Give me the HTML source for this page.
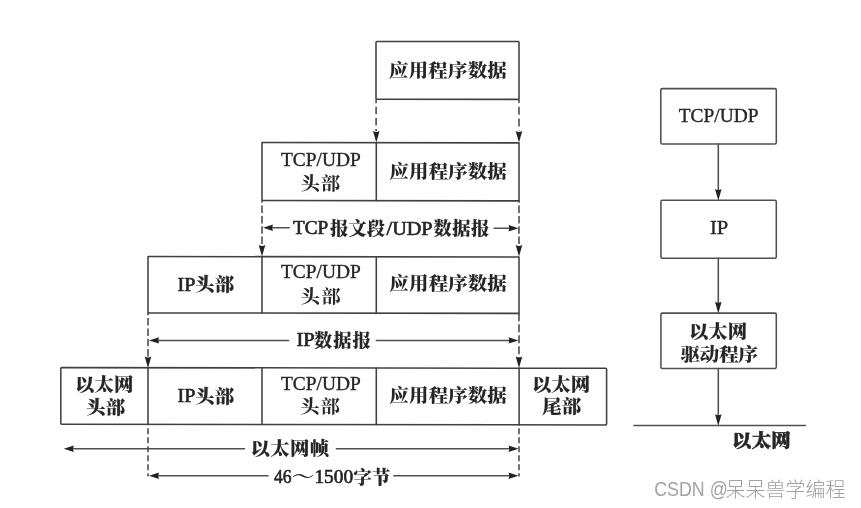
<!DOCTYPE html>
<html lang="zh-CN">
<head>
<meta charset="utf-8">
<title>以太网帧封装</title>
<style>
html,body{margin:0;padding:0;background:#fff;}
body{width:861px;height:508px;overflow:hidden;position:relative;}
svg{position:absolute;left:0;top:0;display:block;}
.ln{stroke:#404040;stroke-width:1.55;fill:none;stroke-linejoin:round;stroke-linecap:round;}
.ln.r{stroke:#505050;stroke-width:1.55;}
.ds{stroke:#444;stroke-width:1.5;fill:none;}
.ah{fill:#222;stroke:none;}
.ln.d{stroke:#505050;stroke-width:1.5;}
.tx text{font-family:"Liberation Serif","Noto Serif CJK SC",serif;fill:#282828;text-anchor:start;font-weight:900;}
.tx text.w{font-weight:500;}
.tx text.n{font-weight:700;}
.tx text.h{font-weight:900;}
.tx text.h .c{stroke:#1c1c1c;stroke-width:0.1;}
.tx text.h .l{font-weight:400;stroke-width:0.6;font-size:18.9px;}
.tx text.hh{font-weight:900;}
.tx text.hh .c{stroke-width:0.45;}
.c{font-size:18.2px;stroke:#1c1c1c;stroke-width:0;}
.l{font-size:19.4px;font-weight:400;stroke:#1c1c1c;stroke-width:0.35;}
.wm{font-family:"Liberation Sans","Noto Sans CJK SC",sans-serif;fill:#a2a2a2;text-anchor:start;font-weight:300;}

</style>
</head>
<body>
<svg width="861" height="508" viewBox="0 0 861 508">
<defs>
<filter id="b" x="-5%" y="-5%" width="110%" height="110%"><feGaussianBlur stdDeviation="0.68"/></filter>
<filter id="bl" x="-5%" y="-5%" width="110%" height="110%"><feGaussianBlur stdDeviation="0.7"/></filter>
<filter id="w" x="-5%" y="-5%" width="110%" height="110%"><feGaussianBlur stdDeviation="0.4"/></filter>
</defs>
<rect x="0" y="0" width="861" height="508" fill="#fff"/>
<g filter="url(#bl)">
<g class="ln" transform="matrix(1 0.0013 0 1 0 -0.08)">
<rect x="376.0" y="41.0" width="143.0" height="57.8" rx="0.8"/>
<rect x="262.0" y="142.3" width="257.0" height="58.0"/>
<line x1="376.3" y1="142.3" x2="376.3" y2="200.3"/>
<rect x="148.0" y="256.4" width="371.0" height="56.4"/>
<line x1="262.0" y1="256.4" x2="262.0" y2="312.8"/>
<line x1="376.3" y1="256.4" x2="376.3" y2="312.8"/>
<rect x="60.8" y="367.6" width="545.8" height="56.6" rx="1.0"/>
<line x1="148.0" y1="367.8" x2="148.0" y2="424.2"/>
<line x1="262.0" y1="367.8" x2="262.0" y2="424.2"/>
<line x1="376.3" y1="367.8" x2="376.3" y2="424.2"/>
<line x1="519.1" y1="367.8" x2="519.1" y2="424.2"/>
</g><g class="ln r">
<rect x="660.8" y="88.6" width="115.5" height="55.4" rx="1.5"/>
<rect x="660.9" y="200.2" width="115.4" height="58.0" rx="1.5"/>
<rect x="660.9" y="313.1" width="115.4" height="55.4" rx="1.5"/>
<line x1="718.3" y1="144.0" x2="718.3" y2="192.0"/>
<line x1="718.3" y1="258.2" x2="718.3" y2="304.0"/>
<line x1="718.3" y1="368.5" x2="718.3" y2="416.0"/>
<line x1="634.0" y1="425.5" x2="805.3" y2="425.5"/>
</g><g class="ln d">
<line x1="270.0" y1="227.8" x2="289.2" y2="227.8"/>
<line x1="494.0" y1="228.2" x2="511.0" y2="228.2"/>
<line x1="156.0" y1="340.4" x2="288.6" y2="340.4"/>
<line x1="376.4" y1="340.4" x2="511.0" y2="340.4"/>
<line x1="72.0" y1="448.8" x2="244.5" y2="448.8"/>
<line x1="336.4" y1="448.8" x2="511.0" y2="448.8"/>
<line x1="156.0" y1="475.8" x2="268.0" y2="475.8"/>
<line x1="393.8" y1="475.8" x2="511.0" y2="475.8"/>
</g>
<g class="ds">
<line x1="376.1" y1="99.2" x2="376.1" y2="131.0" stroke-dasharray="7.5 3.6" stroke-dashoffset="3.5"/>
<line x1="519.0" y1="99.2" x2="519.0" y2="131.0" stroke-dasharray="8 3.8" stroke-dashoffset="4.2"/>
<line x1="262.0" y1="200.3" x2="262.0" y2="247.0" stroke-dasharray="7.5 2.8" stroke-dashoffset="5.0"/>
<line x1="519.0" y1="200.3" x2="519.0" y2="247.0" stroke-dasharray="7.5 2.8" stroke-dashoffset="5.0"/>
<line x1="148.0" y1="312.8" x2="148.0" y2="359.0" stroke-dasharray="7.5 2.8" stroke-dashoffset="5.0"/>
<line x1="519.0" y1="312.8" x2="519.0" y2="359.0" stroke-dasharray="8 3" stroke-dashoffset="-0.5"/>
<line x1="148.0" y1="424.2" x2="148.0" y2="476.5" stroke-dasharray="6 3" stroke-dashoffset="5.0"/>
<line x1="519.0" y1="424.2" x2="519.0" y2="476.5" stroke-dasharray="6 3" stroke-dashoffset="5.0"/>
</g>
</g>
<g filter="url(#b)">
<g class="ah">
<path d="M376.3 142.6 L373.0 131.0 Q376.3 133.0 379.6 131.0 Z"/>
<path d="M519.0 142.6 L515.7 131.0 Q519.0 133.0 522.3 131.0 Z"/>
<path d="M262.0 256.6 L258.7 245.0 Q262.0 247.0 265.3 245.0 Z"/>
<path d="M519.0 256.6 L515.7 245.0 Q519.0 247.0 522.3 245.0 Z"/>
<path d="M148.0 368.0 L144.7 356.4 Q148.0 358.4 151.3 356.4 Z"/>
<path d="M519.0 368.0 L515.7 356.4 Q519.0 358.4 522.3 356.4 Z"/>
<path d="M718.3 200.6 L715.0 189.0 Q718.3 191.0 721.6 189.0 Z"/>
<path d="M718.3 313.4 L715.0 301.8 Q718.3 303.8 721.6 301.8 Z"/>
<path d="M718.3 425.8 L715.0 414.2 Q718.3 416.2 721.6 414.2 Z"/>
<path d="M263.0 227.8 L273.0 224.6 Q271.4 227.8 273.0 231.0 Z"/>
<path d="M518.5 228.2 L508.5 225.0 Q510.1 228.2 508.5 231.4 Z"/>
<path d="M149.0 340.4 L159.0 337.2 Q157.4 340.4 159.0 343.6 Z"/>
<path d="M518.5 340.4 L508.5 337.2 Q510.1 340.4 508.5 343.6 Z"/>
<path d="M63.8 448.8 L73.8 445.6 Q72.2 448.8 73.8 452.0 Z"/>
<path d="M518.5 448.8 L508.5 445.6 Q510.1 448.8 508.5 452.0 Z"/>
<path d="M149.0 475.8 L159.0 472.6 Q157.4 475.8 159.0 479.0 Z"/>
<path d="M518.5 475.8 L508.5 472.6 Q510.1 475.8 508.5 479.0 Z"/>
</g>

</g>
<g filter="url(#b)">
<g class="tx">
<text letter-spacing="0.19" transform="translate(389.00 76.80) scale(1.0700 1)"><tspan class="c">应用程序数据</tspan></text>
<text letter-spacing="0.11" transform="translate(389.50 178.00) scale(1.0700 1)"><tspan class="c">应用程序数据</tspan></text>
<text letter-spacing="0.11" transform="translate(389.50 290.20) scale(1.0700 1)"><tspan class="c">应用程序数据</tspan></text>
<text letter-spacing="0.11" transform="translate(389.50 402.20) scale(1.0700 1)"><tspan class="c">应用程序数据</tspan></text>
<text transform="translate(280.99 165.70) scale(1.0002 1)"><tspan class="l">TCP/UDP</tspan></text>
<text class="n" letter-spacing="0.75" transform="translate(300.50 190.40) scale(1.0700 1)"><tspan class="c">头部</tspan></text>
<text transform="translate(280.99 278.20) scale(1.0002 1)"><tspan class="l">TCP/UDP</tspan></text>
<text class="n" letter-spacing="1.12" transform="translate(300.50 302.70) scale(1.0700 1)"><tspan class="c">头部</tspan></text>
<text transform="translate(280.99 389.70) scale(1.0002 1)"><tspan class="l">TCP/UDP</tspan></text>
<text class="n" letter-spacing="0.93" transform="translate(300.00 413.40) scale(1.0700 1)"><tspan class="c">头部</tspan></text>
<text class="h" transform="translate(177.45 290.90) scale(1.0645 1)"><tspan class="l">IP</tspan></text>
<text class="h" letter-spacing="0.37" transform="translate(195.00 291.00) scale(1.0700 1)"><tspan class="c">头部</tspan></text>
<text class="h" transform="translate(177.45 401.50) scale(1.0645 1)"><tspan class="l">IP</tspan></text>
<text class="h" letter-spacing="0.37" transform="translate(195.00 403.40) scale(1.0700 1)"><tspan class="c">头部</tspan></text>
<text class="h" letter-spacing="0.09" transform="translate(75.00 390.50) scale(1.0700 1)"><tspan class="c">以太网</tspan></text>
<text class="h" letter-spacing="0.19" transform="translate(86.00 413.80) scale(1.0700 1)"><tspan class="c">头部</tspan></text>
<text class="h" letter-spacing="-0.09" transform="translate(532.00 390.70) scale(1.0700 1)"><tspan class="c">以太网</tspan></text>
<text class="h" letter-spacing="0.37" transform="translate(542.00 413.40) scale(1.0700 1)"><tspan class="c">尾部</tspan></text>
<text class="h" transform="translate(293.00 234.10) scale(1.0174 1)"><tspan class="l">TCP</tspan></text>
<text class="h" letter-spacing="0.20" transform="translate(330.00 234.60) scale(1.0000 1)"><tspan class="c">报文段</tspan></text>
<text class="h" transform="translate(386.52 234.80) scale(1.0698 1)"><tspan class="l">/UDP</tspan></text>
<text class="h" letter-spacing="0.50" transform="translate(433.50 234.60) scale(1.0000 1)"><tspan class="c">数据报</tspan></text>
<text class="h" transform="translate(296.42 345.50) scale(1.0792 1)"><tspan class="l">IP</tspan></text>
<text class="h" letter-spacing="1.10" transform="translate(314.00 346.90) scale(1.0000 1)"><tspan class="c">数据报</tspan></text>
<text class="h" letter-spacing="0.25" transform="translate(250.50 455.20) scale(1.0700 1)"><tspan class="c">以太网帧</tspan></text>
<text class="h" transform="translate(274.00 482.70) scale(0.9265 1)"><tspan class="l">46</tspan></text>
<text class="w" transform="translate(291.78 482.70) scale(1.2516 1)"><tspan class="c">～</tspan></text>
<text class="h" transform="translate(314.46 482.70) scale(1.0226 1)"><tspan class="l">1500</tspan></text>
<text class="h" letter-spacing="0.20" transform="translate(353.50 484.30) scale(1.0000 1)"><tspan class="c">字节</tspan></text>
<text transform="translate(678.74 122.30) scale(1.0001 1)"><tspan class="l">TCP/UDP</tspan></text>
<text transform="translate(710.00 234.30) scale(1.0588 1)"><tspan class="l">IP</tspan></text>
<text class="h" letter-spacing="-0.09" transform="translate(689.00 337.60) scale(1.0700 1)"><tspan class="c">以太网</tspan></text>
<text class="h" letter-spacing="-0.12" transform="translate(680.50 361.00) scale(1.0700 1)"><tspan class="c">驱动程序</tspan></text>
<text class="hh" letter-spacing="0.19" transform="translate(732.00 447.30) scale(1.0700 1)"><tspan class="c">以太网</tspan></text>
</g>
</g>
<g filter="url(#w)">
<text class="wm" font-size="19.5" transform="translate(654.2 496.4) scale(0.915 1)">CSDN @</text>
<text class="wm" font-size="20" transform="translate(725.6 496.8)">呆呆兽学编程</text>

</g>
</svg>
</body>
</html>
